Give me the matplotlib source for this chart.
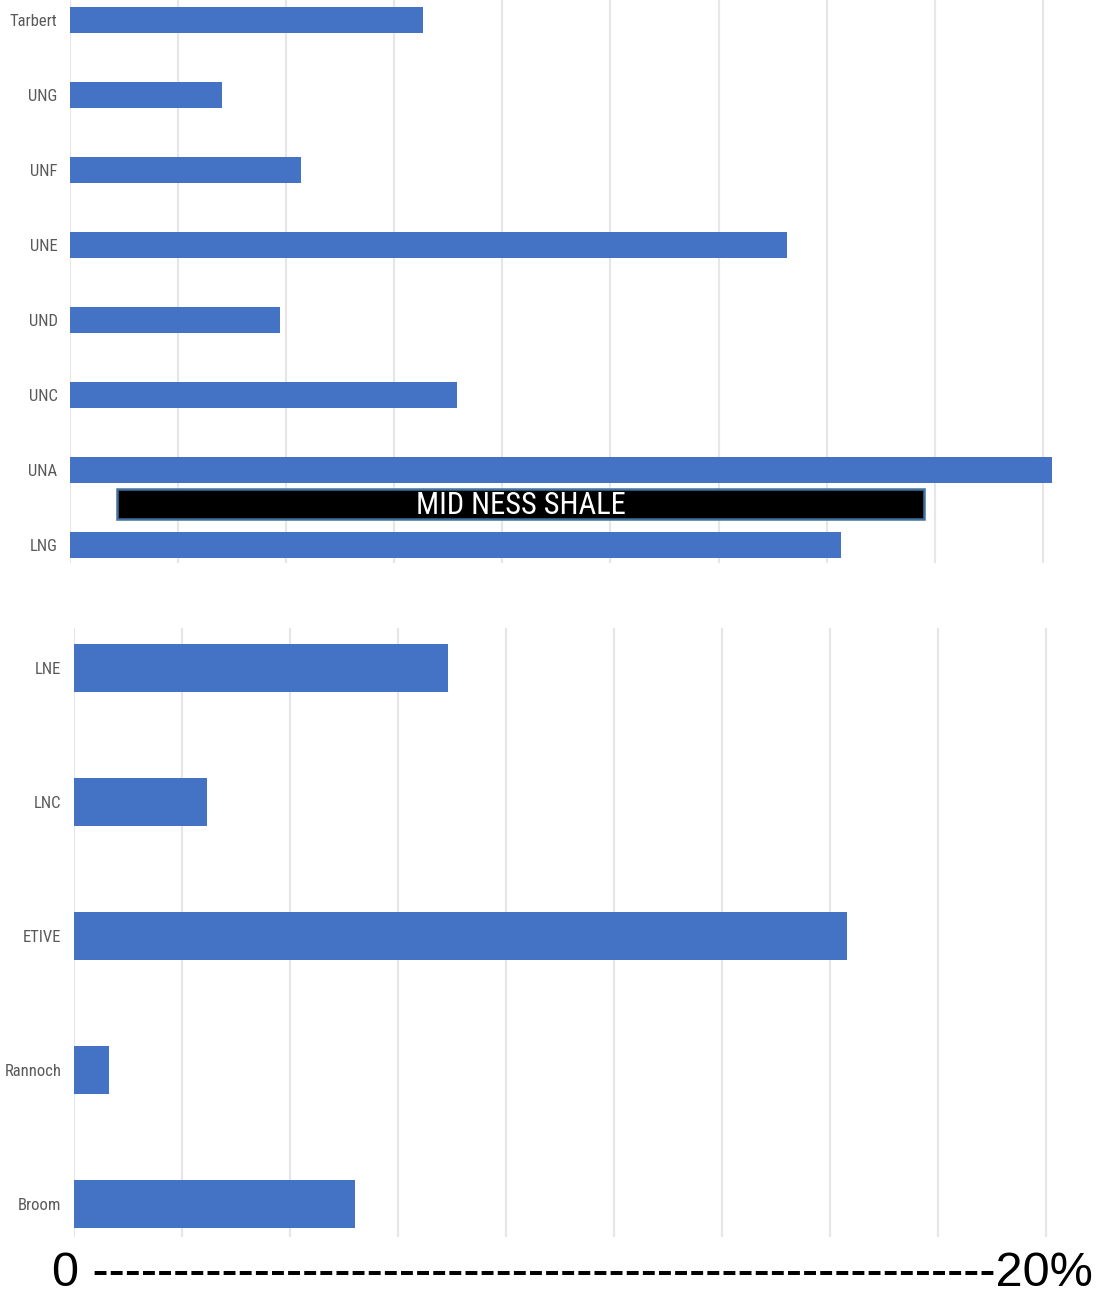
import matplotlib
matplotlib.use("Agg")
import matplotlib.pyplot as plt
from matplotlib.patches import Rectangle

# ---- data (percent) ----
upper_labels = ["Tarbert", "UNG", "UNF", "UNE", "UND", "UNC", "UNA", "LNG"]
upper_values = [6.53, 2.81, 4.27, 13.27, 3.89, 7.16, 18.17, 14.27]

lower_labels = ["LNE", "LNC", "ETIVE", "Rannoch", "Broom"]
lower_values = [6.93, 2.46, 14.31, 0.65, 5.20]

grid_ticks = [0, 2, 4, 6, 8, 10, 12, 14, 16, 18]
shale_label = "MID NESS SHALE"
shale_span = (0.87, 15.8)
shale_pos = 6.45
scale_left = "0"
scale_right = "20%"

BAR = "#4472C4"
GRID = "#E6E6E6"
LABEL = "#595959"
NARROW = ["Roboto Condensed", "Liberation Sans", "DejaVu Sans"]
W, H = 1099, 1297
fig = plt.figure(figsize=(W / 100, H / 100), dpi=100)

def px_axes(x0, y0, x1, y1):
    return fig.add_axes([x0 / W, 1 - y1 / H, (x1 - x0) / W, (y1 - y0) / H])

def style(ax, labels, fs):
    ax.set_xticks(grid_ticks)
    ax.grid(axis="x", color=GRID, linewidth=1.5)
    ax.set_axisbelow(True)
    for s in ax.spines.values():
        s.set_visible(False)
    ax.tick_params(axis="x", length=0, labelbottom=False)
    ax.tick_params(axis="y", length=0, pad=9)
    ax.set_yticks(range(len(labels)))
    ax.set_yticklabels(labels, fontsize=fs, color=LABEL, family=NARROW)

# ---- upper panel ----
ppu = 108.1 / 2  # pixels per percent
xmax = 18.25
ax1 = px_axes(70, 0, 70 + xmax * ppu, 563)
ax1.barh(range(len(upper_labels)), upper_values, height=0.35, color=BAR)
ax1.set_xlim(0, xmax)
ax1.set_ylim(7.24, -0.267)
style(ax1, upper_labels, 12)

ax1.add_patch(Rectangle((shale_span[0], shale_pos - 0.2), shale_span[1] - shale_span[0], 0.4,
                        facecolor="black", edgecolor="#41719C", linewidth=1.8, zorder=5))
ax1.text((shale_span[0] + shale_span[1]) / 2, shale_pos + 0.02, shale_label, color="white",
         fontsize=22, family=NARROW, ha="center", va="center", zorder=6)

# ---- lower panel ----
ppu2 = 108.0 / 2
ax2 = px_axes(74, 628, 74 + xmax * ppu2, 1237)
ax2.barh(range(len(lower_labels)), lower_values, height=0.36, color=BAR)
ax2.set_xlim(0, xmax)
ax2.set_ylim(4.246, -0.30)
style(ax2, lower_labels, 12)

# ---- scale line ----
fig.text(52 / W, 1 - 1286 / H, scale_left + " " + "-" * 56 + scale_right,
         fontsize=35, family=["Liberation Sans", "DejaVu Sans"], color="black",
         ha="left", va="baseline")

fig.savefig("out.png", dpi=100)
